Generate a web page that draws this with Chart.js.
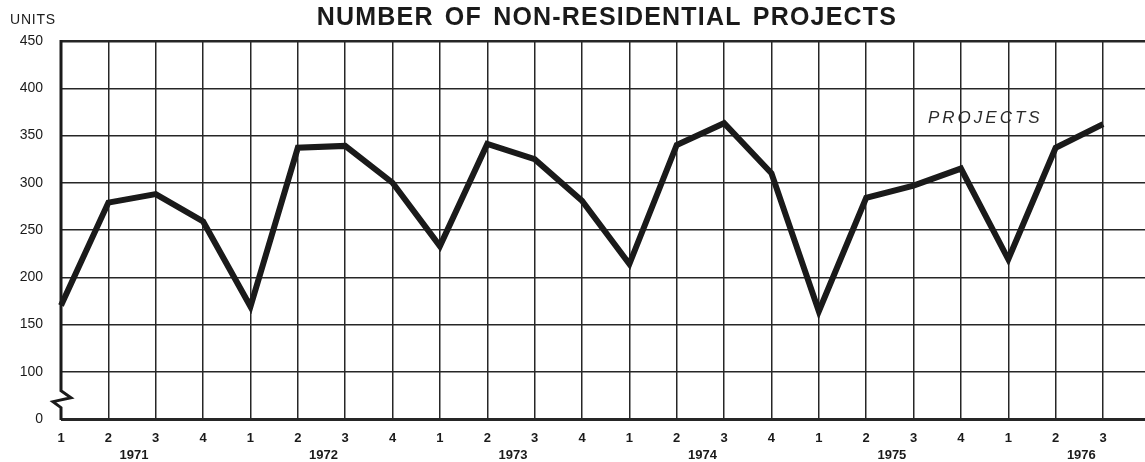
<!DOCTYPE html>
<html>
<head>
<meta charset="utf-8">
<script src="https://cdn.jsdelivr.net/npm/chart.js@4/dist/chart.umd.min.js"></script>
<style>
  html, body { margin: 0; padding: 0; background: #ffffff; overflow: hidden; }
  #wrap { width: 1166px; height: 462px; }
</style>
</head>
<body>
<div id="wrap"><canvas id="c" width="1166" height="462"></canvas></div>
<script>
// ---- data ----
const quarterLabels = ['1','2','3','4','1','2','3','4','1','2','3','4','1','2','3','4','1','2','3','4','1','2','3','4'];
const yearLabels = ['1971','1972','1973','1974','1975','1976'];
const projects = [170, 279, 288, 259, 169, 337, 339, 300, 233, 341, 325, 281, 214, 340, 363, 310, 164, 284, 297, 315, 219, 337, 362, null];
const yTickValues = [50, 100, 150, 200, 250, 300, 350, 400, 450];
const yTickText = ['0', '100', '150', '200', '250', '300', '350', '400', '450'];
const titleText = 'NUMBER OF NON-RESIDENTIAL PROJECTS';
const unitsText = 'UNITS';
const seriesLabel = 'PROJECTS';

const INK = '#1a1a1a';

const decor = {
  id: 'decor',
  afterDraw(chart) {
    const ctx = chart.ctx;
    const xs = chart.scales.x, ys = chart.scales.y;
    const ca = chart.chartArea;
    ctx.save();
    // left axis with break
    ctx.strokeStyle = INK;
    ctx.lineWidth = 3;
    ctx.lineJoin = 'miter';
    const x0 = ca.left;
    const yb1 = ys.getPixelForValue(80);
    ctx.beginPath();
    ctx.moveTo(x0, ca.top - 1);
    ctx.lineTo(x0, yb1);
    ctx.lineTo(x0 + 10, yb1 + 7);
    ctx.lineTo(x0 - 8, yb1 + 11);
    ctx.lineTo(x0, yb1 + 17);
    ctx.lineTo(x0, ca.bottom + 1);
    ctx.stroke();

    // title
    ctx.fillStyle = INK;
    ctx.textBaseline = 'alphabetic';
    ctx.font = 'bold 25px "Liberation Sans", Arial, sans-serif';
    ctx.letterSpacing = '1.2px';
    try { ctx.wordSpacing = '3px'; } catch (e) {}
    ctx.textAlign = 'center';
    ctx.fillText(titleText, 607, 25);
    try { ctx.wordSpacing = '0px'; } catch (e) {}

    // units
    ctx.font = '14px "Liberation Sans", Arial, sans-serif';
    ctx.letterSpacing = '0.8px';
    ctx.textAlign = 'left';
    ctx.fillText(unitsText, 10, 24);

    // series label
    ctx.font = 'italic 17px "Liberation Sans", Arial, sans-serif';
    ctx.letterSpacing = '3px';
    ctx.fillStyle = '#2a2a2a';
    ctx.fillText(seriesLabel, 928, 123);

    // year labels
    ctx.letterSpacing = '0px';
    ctx.fillStyle = INK;
    ctx.font = 'bold 13px "Liberation Sans", Arial, sans-serif';
    ctx.textAlign = 'center';
    yearLabels.forEach((yr, i) => {
      const xp = xs.getPixelForValue(i * 4 + 1.5) + 2;
      ctx.fillText(yr, xp, 459);
    });
    ctx.restore();
  }
};

new Chart(document.getElementById('c'), {
  type: 'line',
  data: {
    labels: quarterLabels,
    datasets: [{
      label: seriesLabel,
      data: projects,
      borderColor: INK,
      borderWidth: 6,
      pointRadius: 0,
      tension: 0,
      fill: false,
      borderJoinStyle: 'miter',
      borderCapStyle: 'butt'
    }]
  },
  options: {
    responsive: false,
    animation: false,
    devicePixelRatio: 1,
    layout: { padding: { top: 41, right: 4, left: 0, bottom: 0 } },
    plugins: { legend: { display: false }, title: { display: false }, tooltip: { enabled: false } },
    scales: {
      x: {
        type: 'category',
        offset: false,
        border: { display: false },
        grid: {
          drawTicks: false,
          color: (c) => c.index === 0 ? 'rgba(0,0,0,0)' : '#262626',
          lineWidth: 1.5
        },
        ticks: {
          autoSkip: false,
          maxRotation: 0,
          padding: 12,
          color: INK,
          font: { family: '"Liberation Sans", Arial, sans-serif', size: 13, weight: 'bold' }
        },
        afterFit(s) { s.height = 43; }
      },
      y: {
        min: 50,
        max: 450,
        border: { display: false },
        grid: {
          drawTicks: false,
          color: '#262626',
          lineWidth: (c) => c.tick && c.tick.value === 50 ? 3 : (c.tick && c.tick.value === 450 ? 2.5 : 1.5)
        },
        afterBuildTicks(s) { s.ticks = yTickValues.map(v => ({ value: v })); },
        ticks: {
          padding: 18,
          color: INK,
          font: { family: '"Liberation Sans", Arial, sans-serif', size: 14 },
          callback: (v) => { const i = yTickValues.indexOf(v); return i >= 0 ? yTickText[i] : ''; }
        },
        afterFit(s) { s.width = 61; }
      }
    }
  },
  plugins: [decor]
});
</script>
</body>
</html>
